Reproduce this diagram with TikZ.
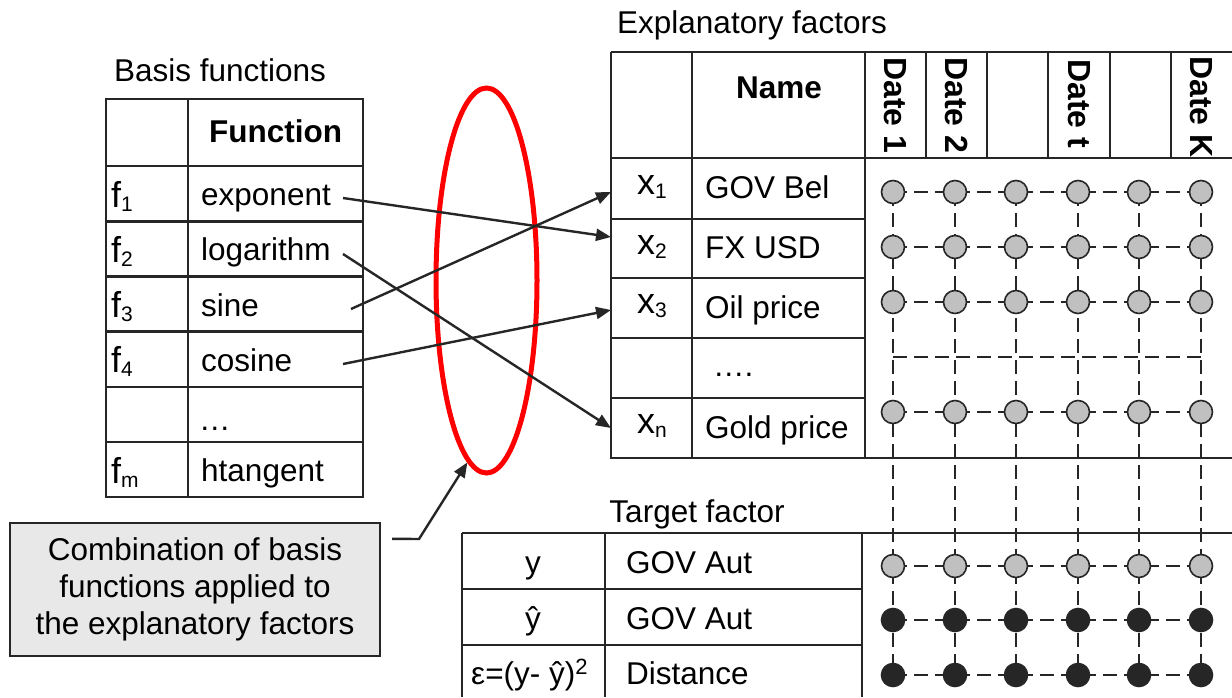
\documentclass[tikz,border=0pt]{standalone}
\usepackage{fontspec}
\setmainfont{Liberation Sans}
\usetikzlibrary{arrows.meta,shapes.geometric}
\definecolor{ln}{HTML}{262626}
\definecolor{dotgray}{HTML}{C0C0C0}
\definecolor{boxgray}{HTML}{E8E8E8}
\newcommand\symlab[2]{{\fontsize{36}{40}\selectfont #1}\raisebox{-4pt}{\fontsize{21}{24}\selectfont #2}}
\begin{document}
\begin{tikzpicture}[x=1pt,y=-1pt,
  font=\fontsize{31.5}{37}\selectfont,
  tbl/.style={draw=ln,line width=2.6pt},
  txt/.style={inner sep=0pt},
  lbl/.style={inner sep=0pt,anchor=base west},
  ctr/.style={inner sep=0pt,anchor=base},
  conn/.style={draw=ln,line width=2.4pt,-{Triangle[length=15pt,width=12pt]}},
  dashline/.style={draw=ln,line width=1.8pt,dash pattern=on 14pt off 7pt},
  dotg/.style={circle,draw=ln,line width=1.6pt,fill=dotgray,minimum size=23pt,inner sep=0pt},
  dotb/.style={dotg,fill=ln},
  datelbl/.style={inner sep=0pt,rotate=-90,anchor=west,font=\fontsize{32}{37}\selectfont\bfseries}
]
\useasboundingbox (0,0) rectangle (1232,697);

% ---------- Basis functions table ----------
\node[ctr] (bftitle) at (220,81) {Basis functions};
\draw[tbl] (106,99) rectangle (363,497);
\draw[tbl] (188,99) -- (188,497);
\foreach \y in {166,221.2,276.4,331.6,386.8,442} \draw[tbl] (106,\y) -- (363,\y);
\node[ctr] (fhead) at (275.5,142) {\bfseries Function};
\node[lbl] (f1) at (111,207) {\symlab{f}{1}};
\node[lbl] (f2) at (111,262.2) {\symlab{f}{2}};
\node[lbl] (f3) at (111,317.4) {\symlab{f}{3}};
\node[lbl] (f4) at (111,372.6) {\symlab{f}{4}};
\node[lbl] (fm) at (111,483) {\symlab{f}{m}};
\node[lbl] (expo) at (201,205.6) {exponent};
\node[lbl] (loga) at (201,260.8) {logarithm};
\node[lbl] (sine) at (201,316) {sine};
\node[lbl] (cosi) at (201,371.2) {cosine};
\node[lbl] (fdots) at (199,430) {…};
\node[lbl] (htan) at (201,481.5) {htangent};

% ---------- Explanatory factors table ----------
\node[ctr] (eftitle) at (752,33) {Explanatory factors};
\draw[tbl] (611,52) -- (1232,52);
\draw[tbl] (611,52) -- (611,458) -- (1232,458);
\draw[tbl] (611,158) -- (1232,158);
\draw[tbl] (692,52) -- (692,458);
\draw[tbl] (865,52) -- (865,458);
\foreach \x in {926,987,1048,1110,1171} \draw[tbl] (\x,52) -- (\x,158);
\foreach \y in {219,278,338,398} \draw[tbl] (611,\y) -- (865,\y);
\node[ctr] (namehead) at (779,98) {\bfseries Name};
\node[datelbl] (d1) at (895.5,57) {Date 1};
\node[datelbl] (d2) at (956.5,57) {Date 2};
\node[datelbl] (dt) at (1079,59) {Date t};
\node[datelbl] (dk) at (1201.5,56) {Date K};
\node[lbl] (x1) at (637,194) {\symlab{x}{1}};
\node[lbl] (x2) at (637,254) {\symlab{x}{2}};
\node[lbl] (x3) at (637,313.5) {\symlab{x}{3}};
\node[lbl] (xn) at (637,433.5) {\symlab{x}{n}};
\node[lbl] (n1) at (705,198.5) {GOV Bel};
\node[lbl] (n2) at (705,258.5) {FX USD};
\node[lbl] (n3) at (705,318) {Oil price};
\node[lbl] (ndots) at (713,376) {….};
\node[lbl] (nn) at (705,438) {Gold price};

% ---------- Target factor table ----------
\node[ctr] (tftitle) at (697,522) {Target factor};
\draw[tbl] (462,533) -- (1232,533);
\draw[tbl] (462,533) -- (462,697);
\draw[tbl] (605,533) -- (605,697);
\draw[tbl] (862,533) -- (862,697);
\foreach \y in {589,645} \draw[tbl] (462,\y) -- (862,\y);
\node[ctr] (ty) at (533,573) {y};
\node[ctr] (tyh) at (533,629) {ŷ};
\node[lbl] (teps) at (471,684) {ε=(y- ŷ)\textsuperscript{2}};
\node[lbl] (tn1) at (626,573) {GOV Aut};
\node[lbl] (tn2) at (626,629) {GOV Aut};
\node[lbl] (tn3) at (626,684) {Distance};

% ---------- grid of dates ----------
\foreach \c/\x in {1/893,2/955,3/1016,4/1078,5/1139,6/1201}
  \foreach \r/\y in {1/192,2/247,3/302,4/412,5/566,6/620,7/675}
    \coordinate (g-\r-\c) at (\x,\y);
\coordinate (mid-l) at (893,357);
\coordinate (mid-r) at (1201,357);
\foreach \c in {1,...,6} \draw[dashline] (g-1-\c) -- (g-7-\c);
\foreach \r in {1,...,7} \draw[dashline] (g-\r-1) -- (g-\r-6);
\draw[dashline] (mid-l) -- (mid-r);
\foreach \c in {1,...,6}{
  \foreach \r in {1,...,5} \node[dotg] (c-\r-\c) at (g-\r-\c) {};
  \foreach \r in {6,7} \node[dotb] (c-\r-\c) at (g-\r-\c) {};
}

% ---------- combination ellipse ----------
\node[ellipse,draw=red,line width=5pt,minimum width=101pt,minimum height=385pt,inner sep=0pt] (comb) at (486.5,280.5) {};

% ---------- mapping arrows ----------
\draw[conn] ([shift={(142,-7.6)}]expo.base west) -- ([shift={(-26,-17)}]x2.base west);
\draw[conn] ([shift={(142,-6.8)}]loga.base west) -- ([shift={(-26,-5.5)}]xn.base west);
\draw[conn] ([shift={(150,-7)}]sine.base west) -- ([shift={(-26,-2)}]x1.base west);
\draw[conn] ([shift={(142,-7.2)}]cosi.base west) -- ([shift={(-26,-3.5)}]x3.base west);

% ---------- callout ----------
\node[draw=ln,line width=2.4pt,fill=boxgray,minimum width=370pt,minimum height=133pt,align=center,inner sep=0pt] (callout) at (195,589.5)
  {Combination of basis\\functions applied to\\the explanatory factors};
\coordinate (bend) at (419,539);
\draw[draw=ln,line width=2.4pt,-{Triangle[length=15pt,width=12pt]}] ([shift={(11,17)}]callout.north east) -- (bend) -- (comb.-96);
\end{tikzpicture}
\end{document}
